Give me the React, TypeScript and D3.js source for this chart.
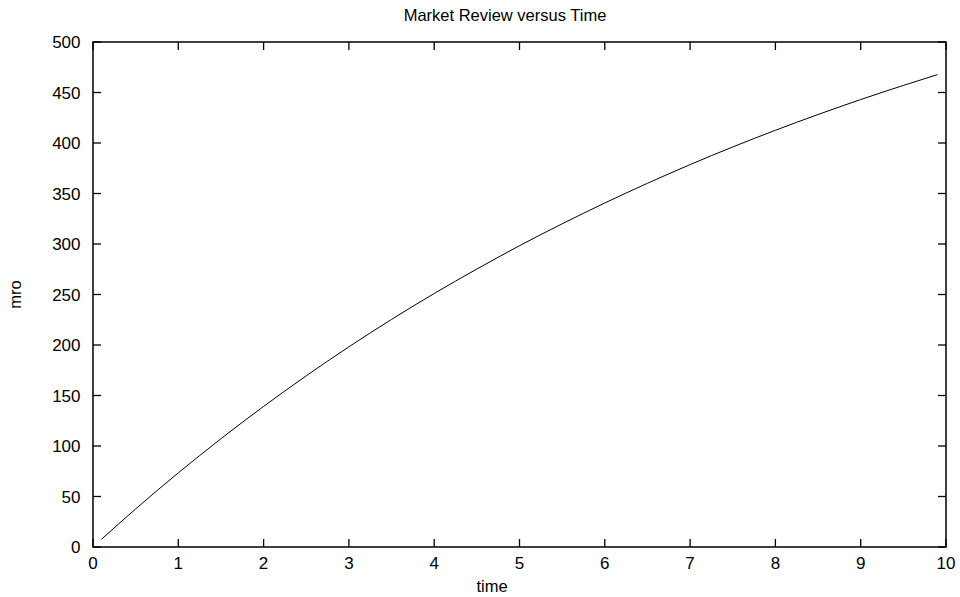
import React from "react";
import * as d3 from "d3";

const timeValues = [0.1, 0.5, 1, 1.5, 2, 2.5, 3, 3.5, 4, 4.5, 5, 5.5, 6, 6.5, 7, 7.5, 8, 8.5, 9, 9.5, 9.9];
const mroValues = [7.7, 37.7, 73.4, 107.2, 139.2, 169.5, 198.2, 225.3, 251.0, 275.2, 298.3, 320.0, 340.6, 360.1, 378.6, 396.1, 412.6, 428.2, 443.0, 457.0, 467.7];
const xTicks = [0, 1, 2, 3, 4, 5, 6, 7, 8, 9, 10];
const yTicks = [0, 50, 100, 150, 200, 250, 300, 350, 400, 450, 500];

const W = 960, H = 597;
const L = 93, R = 946, T = 42, B = 547;
const FONT = "'Liberation Sans', Arial, Helvetica, sans-serif";

export default function App() {
  const x = d3.scaleLinear().domain([0, 10]).range([L, R]);
  const y = d3.scaleLinear().domain([0, 500]).range([B, T]);
  const pts = timeValues.map((t, i) => [t, mroValues[i]] as [number, number]);
  const line = d3.line<[number, number]>().x(d => x(d[0])).y(d => y(d[1])).curve(d3.curveMonotoneX);
  const tk = 8;
  return (
    <svg width={W} height={H} style={{ position: "absolute", left: 0, top: 0, background: "#fff" }} fontFamily={FONT}>
      <rect x={0} y={0} width={W} height={H} fill="#fff" />
      <text x={505} y={20.5} textAnchor="middle" fontSize={16.5}>Market Review versus Time</text>
      {yTicks.map(v => (
        <g key={"y" + v}>
          <line x1={L} x2={L + tk} y1={y(v)} y2={y(v)} stroke="#000" strokeWidth={1.3} />
          <line x1={R} x2={R - tk} y1={y(v)} y2={y(v)} stroke="#000" strokeWidth={1.3} />
          <text x={80.5} y={y(v)} dy="0.36em" textAnchor="end" fontSize={17}>{v}</text>
        </g>
      ))}
      {xTicks.map(v => (
        <g key={"x" + v}>
          <line x1={x(v)} x2={x(v)} y1={B} y2={B - tk} stroke="#000" strokeWidth={1.3} />
          <line x1={x(v)} x2={x(v)} y1={T} y2={T + tk} stroke="#000" strokeWidth={1.3} />
          <text x={x(v)} y={569} textAnchor="middle" fontSize={17}>{v}</text>
        </g>
      ))}
      <rect x={L} y={T} width={R - L} height={B - T} fill="none" stroke="#000" strokeWidth={1.5} />
      <path d={line(pts) || ""} fill="none" stroke="#000" strokeWidth={1} />
      <text x={492} y={592} textAnchor="middle" fontSize={16.5}>time</text>
      <text transform={`translate(21,${(T + B) / 2}) rotate(-90)`} textAnchor="middle" fontSize={16.5}>mro</text>
    </svg>
  );
}
